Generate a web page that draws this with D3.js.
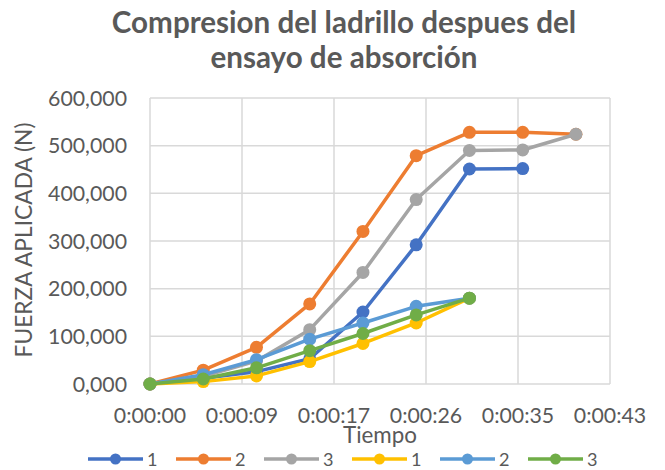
<!DOCTYPE html>
<html>
<head>
<meta charset="utf-8">
<script src="https://cdn.jsdelivr.net/npm/d3@7"></script>
<style>
  html, body { margin: 0; padding: 0; background: #fff; }
  svg { display: block; }
  text { font-family: Lato, "Open Sans", sans-serif; fill: #595959; }
</style>
</head>
<body>
<svg id="chart" width="665" height="470"></svg>
<script>
// ---- data ----
const timesSec = [0, 5, 10, 15, 20, 25, 30, 35, 40];
const seriesNames = ["1", "2", "3", "1", "2", "3"];
const seriesColors = ["#4472C4", "#ED7D31", "#A5A5A5", "#FFC000", "#5B9BD5", "#70AD47"];
const s1 = [0, 12000, 26000, 53000, 151000, 292000, 451000, 452000];
const s2 = [0, 29000, 77000, 168000, 320000, 479000, 528000, 528000, 524000];
const s3 = [0, 16000, 48000, 114000, 234000, 387000, 490000, 491000, 524000];
const s4 = [0, 5000, 17000, 47000, 85000, 128000, 180000];
const s5 = [0, 19500, 51000, 94000, 128000, 163000, 180000];
const s6 = [0, 10500, 34000, 70000, 106000, 145000, 180000];
const seriesValues = [s1, s2, s3, s4, s5, s6];
const yTickValues = [0, 100000, 200000, 300000, 400000, 500000, 600000];
const yTickLabels = ["0,000", "100,000", "200,000", "300,000", "400,000", "500,000", "600,000"];
const xTickValues = [0, 8.64, 17.28, 25.92, 34.56, 43.2];
const xTickLabels = ["0:00:00", "0:00:09", "0:00:17", "0:00:26", "0:00:35", "0:00:43"];
const titleLines = ["Compresion del ladrillo despues del", "ensayo de absorción"];
const yTitle = "FUERZA APLICADA (N)";
const xTitle = "Tiempo";

// ---- layout ----
const svg = d3.select("#chart");
const plot = { left: 150, right: 610, top: 98, bottom: 384 };
const x = d3.scaleLinear().domain([0, 43.2]).range([plot.left, plot.right]);
const y = d3.scaleLinear().domain([0, 600000]).range([plot.bottom, plot.top]);
const grid = "#D9D9D9";

function fitSize(text, target, weight) {
  const t = svg.append("text").attr("font-size", 100).attr("font-weight", weight || "normal").text(text);
  const w = t.node().getComputedTextLength();
  t.remove();
  return 100 * target / w;
}
const tickSize = fitSize("600,000", 79);
const titleSize = fitSize(titleLines[1], 267, "bold");
const yTitleSize = fitSize(yTitle, 235);
const xTitleSize = fitSize(xTitle, 74);

// gridlines
const g = svg.append("g");
g.selectAll("line.h").data(yTickValues).join("line")
  .attr("x1", plot.left).attr("x2", plot.right)
  .attr("y1", d => y(d)).attr("y2", d => y(d))
  .attr("stroke", grid).attr("stroke-width", 1.5);
g.selectAll("line.v").data(xTickValues).join("line")
  .attr("x1", d => x(d)).attr("x2", d => x(d))
  .attr("y1", plot.top).attr("y2", plot.bottom)
  .attr("stroke", grid).attr("stroke-width", 1.5);

// y tick labels
svg.append("g").selectAll("text").data(yTickValues).join("text")
  .attr("x", 127).attr("y", d => y(d)).attr("dy", "0.36em")
  .attr("text-anchor", "end").attr("font-size", tickSize)
  .text((d, i) => yTickLabels[i]);

// x tick labels
svg.append("g").selectAll("text").data(xTickValues).join("text")
  .attr("x", d => x(d)).attr("y", 415).attr("dy", "0.36em")
  .attr("text-anchor", "middle").attr("font-size", tickSize)
  .text((d, i) => xTickLabels[i]);

// titles
svg.append("g").selectAll("text").data(titleLines).join("text")
  .attr("x", 344).attr("y", (d, i) => 33 + i * 35)
  .attr("text-anchor", "middle").attr("font-size", titleSize).attr("font-weight", "bold")
  .text(d => d);
svg.append("text").attr("transform", "translate(32,240) rotate(-90)")
  .attr("text-anchor", "middle").attr("font-size", yTitleSize).text(yTitle);
svg.append("text").attr("x", 380).attr("y", 435).attr("dy", "0.36em")
  .attr("text-anchor", "middle").attr("font-size", xTitleSize).text(xTitle);

// series
const line = d3.line().x(d => x(d[0])).y(d => y(d[1]));
seriesValues.forEach((vals, si) => {
  const pts = vals.map((v, i) => [timesSec[i], v]);
  const sg = svg.append("g");
  sg.append("path").attr("d", line(pts)).attr("fill", "none")
    .attr("stroke", seriesColors[si]).attr("stroke-width", 3.5).attr("stroke-linejoin", "round");
  sg.selectAll("circle").data(pts).join("circle")
    .attr("cx", d => x(d[0])).attr("cy", d => y(d[1])).attr("r", 6.5)
    .attr("fill", seriesColors[si]);
});

// legend
const lg = svg.append("g");
const legendSize = tickSize * 0.85;
seriesNames.forEach((name, i) => {
  const x0 = 88 + i * 88, ly = 459;
  lg.append("line").attr("x1", x0).attr("x2", x0 + 55).attr("y1", ly).attr("y2", ly)
    .attr("stroke", seriesColors[i]).attr("stroke-width", 3.5);
  lg.append("circle").attr("cx", x0 + 27.5).attr("cy", ly).attr("r", 5.5).attr("fill", seriesColors[i]);
  lg.append("text").attr("x", x0 + 59).attr("y", ly).attr("dy", "0.36em")
    .attr("font-size", legendSize).text(name);
});
</script>
</body>
</html>
